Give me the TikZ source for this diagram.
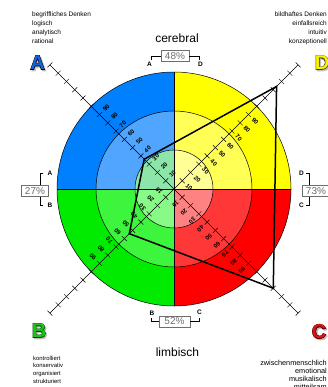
\documentclass[tikz,border=0pt]{standalone}
\usepackage{fontspec}
\setmainfont{Liberation Sans}
\newfontfamily\bigout[FakeBold=5]{Liberation Sans Bold}
\newfontfamily\bigin{Liberation Sans Bold}
\usetikzlibrary{calc}
\definecolor{Aout}{RGB}{0,128,255}
\definecolor{Amid}{RGB}{80,165,255}
\definecolor{Ain}{RGB}{140,230,170}
\definecolor{Bout}{RGB}{0,235,0}
\definecolor{Bmid}{RGB}{60,245,60}
\definecolor{Bin}{RGB}{135,250,135}
\definecolor{Cout}{RGB}{255,0,0}
\definecolor{Cmid}{RGB}{255,55,55}
\definecolor{Cin}{RGB}{255,130,130}
\definecolor{Dout}{RGB}{255,255,0}
\definecolor{Dmid}{RGB}{255,255,85}
\definecolor{Din}{RGB}{255,255,150}
\definecolor{LA}{RGB}{20,100,220}
\definecolor{LB}{RGB}{20,200,20}
\definecolor{LC}{RGB}{220,20,20}
\definecolor{LD}{RGB}{250,240,0}
\definecolor{pct}{RGB}{110,110,110}
\newcommand\bigletter[5]{%
  \node[bigl,font=\fontsize{20}{20}\bigout,text=gray!50] (#5s) at ($(#1)+(1.4,-1.4)$) {#4};
  \node[bigl,font=\fontsize{20}{20}\bigout,text=#3] (#5o) at (#1) {#4};
  \node[bigl,font=\fontsize{20}{20}\bigin,text=#2] (#5) at (#1) {#4};
}
\begin{document}
\begin{tikzpicture}[x=1pt,y=1pt,
  ring/.style={draw=black,line width=0.5pt},
  axisline/.style={draw=black,line width=0.45pt},
  lab/.style={font=\fontsize{6}{6}\selectfont\bfseries,inner sep=0pt},
  poly/.style={draw=black,line width=1.5pt,line join=miter},
  bigl/.style={inner sep=0pt},
  pbox/.style={draw=pct,fill=white,text=pct,font=\fontsize{10}{10}\selectfont,inner sep=0pt,minimum width=28pt,minimum height=11pt,line width=0.6pt},
  brk/.style={draw=black,line width=0.5pt},
  blab/.style={font=\fontsize{6.5}{6.5}\selectfont\bfseries,inner sep=0pt},
  desc/.style={inner sep=0pt},
  title/.style={font=\fontsize{12}{12}\selectfont,inner sep=0pt}]
\useasboundingbox (0,0) rectangle (328,-387);
\def\u{1.17}
\coordinate (O) at (174,-189);
% sectors
\foreach \rad/\ca/\cb/\cc/\cd in {117/Aout/Bout/Cout/Dout,78/Amid/Bmid/Cmid/Dmid,39/Ain/Bin/Cin/Din}{
  \fill[\cd] (O) -- ++(0:\rad) arc[start angle=0,end angle=90,radius=\rad] -- cycle;
  \fill[\ca] (O) -- ++(90:\rad) arc[start angle=90,end angle=180,radius=\rad] -- cycle;
  \fill[\cb] (O) -- ++(180:\rad) arc[start angle=180,end angle=270,radius=\rad] -- cycle;
  \fill[\cc] (O) -- ++(270:\rad) arc[start angle=270,end angle=360,radius=\rad] -- cycle;
}
\foreach \rad in {117,78,39}{\draw[ring] (O) circle[radius=\rad];}
\draw[ring] (O) ++(-117,0) -- ++(234,0);
\draw[ring] (O) ++(0,117) -- ++(0,-234);
% axes
\foreach \d in {45,135,225,315}{
  \coordinate (end\d) at ($(O)+(\d:175.5)$);
  \draw[axisline] (O) -- (end\d);
  \foreach \k in {10,20,...,150}{
    \draw[axisline] ($(O)+(\d:{\k*\u})+(\d+90:3.5)$) -- ++(\d-90:7);
  }
  \foreach \k in {10,20,...,90}{
    \node[lab,rotate=\d-90] (l\d-\k) at ($(O)+(\d:{\k*\u})+(\d-90:9.5)$) {\k};
  }
}
% profile polygon
\coordinate (pA) at ($(O)+(135:{36*\u})$);
\coordinate (pD) at ($(O)+(45:{124*\u})$);
\coordinate (pC) at ($(O)+(315:{120*\u})$);
\coordinate (pB) at ($(O)+(225:{54*\u})$);
\draw[poly] (pA) -- (pD) -- (pC) -- (pB) -- cycle;
% titles
\node[title,anchor=base] (cer) at (177,-43) {cerebral};
\node[title,anchor=base] (lim) at (177.5,-356.5) {limbisch};
% percentage brackets
\coordinate (tA) at (151,-60.5);
\coordinate (tD) at (199,-60.5);
\node[pbox] (ptop) at (175,-56) {48\%};
\draw[brk] (tA) |- (ptop.west);
\draw[brk] (tD) |- (ptop.east);
\node[blab] (tAl) at (149.5,-64.5) {A};
\node[blab] (tDl) at (200.5,-64.5) {D};
\coordinate (lA1) at (43,-173.5);
\coordinate (lB1) at (43,-205.5);
\draw[brk] (lA1) -- ++(-3,0) coordinate (lA2) -- (40,-205.5) -- (lB1);
\node[pbox,minimum width=27pt] (pleft) at (35,-191) {27\%};
\node[blab] (lAl) at (50,-173) {A};
\node[blab] (lBl) at (50,-205) {B};
\coordinate (rD1) at (306,-173.5);
\coordinate (rC1) at (306,-205.5);
\draw[brk] (rD1) -- (309,-173.5) -- (309,-205.5) -- (rC1);
\node[pbox] (pright) at (316,-191) {73\%};
\node[blab] (rDl) at (301.5,-173) {D};
\node[blab] (rCl) at (301.5,-205) {C};
\coordinate (bB) at (151,-318);
\coordinate (bC) at (199,-318);
\node[pbox,minimum width=31pt] (pbot) at (174.5,-321.5) {52\%};
\draw[brk] (bB) |- (pbot.west);
\draw[brk] (bC) |- (pbot.east);
\node[blab] (bBl) at (152,-313) {B};
\node[blab] (bCl) at (199.5,-312.5) {C};
% big letters
\bigletter{37.5,-62.5}{LA}{black}{A}{bigA}
\bigletter{322,-62.5}{LD}{black!70!olive}{D}{bigD}
\bigletter{39,-330.5}{LB}{black!80!green}{B}{bigB}
\bigletter{319,-331.5}{LC}{black!70!red}{C}{bigC}
% descriptions
\begin{scope}[every node/.style={desc,font=\fontsize{6.5}{6.5}\selectfont}]
\node[anchor=base west] (tl1) at (32,-17) {begriffliches Denken};
\node[anchor=base west] (tl2) at (32,-26) {logisch};
\node[anchor=base west] (tl3) at (32,-35) {analytisch};
\node[anchor=base west] (tl4) at (32,-44) {rational};
\node[anchor=base east] (tr1) at (327,-17) {bildhaftes Denken};
\node[anchor=base east] (tr2) at (327,-26) {einfallsreich};
\node[anchor=base east] (tr3) at (327,-35) {intuitiv};
\node[anchor=base east] (tr4) at (327,-44) {konzeptionell};
\end{scope}
\begin{scope}[every node/.style={desc,font=\fontsize{5.9}{5.9}\selectfont}]
\node[anchor=base west] (bl1) at (33,-360) {kontrolliert};
\node[anchor=base west] (bl2) at (33,-367.5) {konservativ};
\node[anchor=base west] (bl3) at (33,-375) {organisiert};
\node[anchor=base west] (bl4) at (33,-383) {strukturiert};
\end{scope}
\begin{scope}[every node/.style={desc,font=\fontsize{7.3}{7.3}\selectfont}]
\node[anchor=base east] (br1) at (327,-365) {zwischenmenschlich};
\node[anchor=base east] (br2) at (327,-373) {emotional};
\node[anchor=base east] (br3) at (327,-381) {musikalisch};
\node[anchor=base east] (br4) at (327,-389) {mitteilsam};
\end{scope}
\end{tikzpicture}
\end{document}
